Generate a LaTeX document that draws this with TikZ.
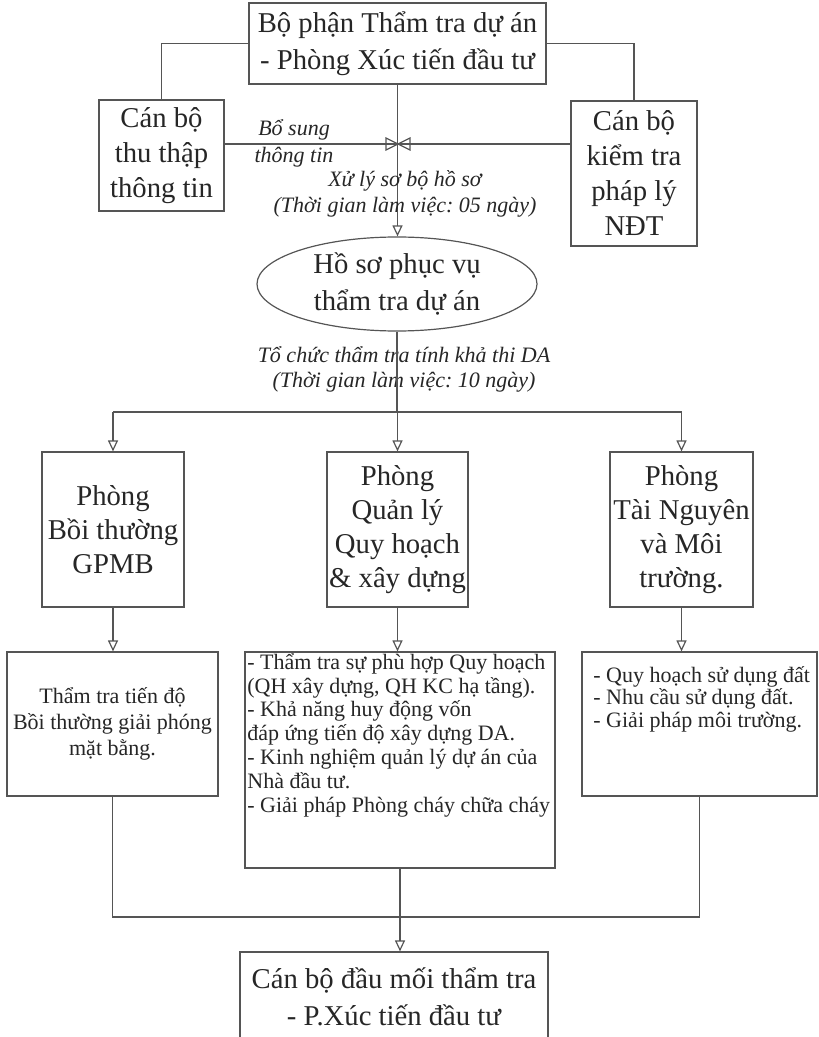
\documentclass[tikz,border=0pt]{standalone}
\usepackage{fontspec}
\setmainfont{Liberation Serif}
\usetikzlibrary{arrows.meta,shapes.geometric}
\definecolor{linegray}{HTML}{555555}
\definecolor{inkgray}{HTML}{262626}
\frenchspacing

\begin{document}
\begin{tikzpicture}[x=0.5pt, y=-0.5pt,
        box/.style={draw=linegray, line width=0.6pt, inner sep=0pt, align=center, text=inkgray},
        sz/.style 2 args={minimum width=#1*0.5pt, minimum height=#2*0.5pt},
        big/.style={font=\fontsize{14.35}{#1}\selectfont},
        note/.style={font=\fontsize{11}{#1}\selectfont\itshape, text=inkgray, inner sep=0pt, align=center},
        small/.style={font=\fontsize{11}{#1}\selectfont, text=inkgray, inner sep=0pt},
        link/.style={draw=linegray, line width=0.6pt},
        arr/.style={link, -{Triangle[open, length=5.5pt, width=5pt]}}]
        \useasboundingbox (0,0) rectangle (818,1037);
        \clip (0,0) rectangle (818,1037);

        % Top: project review unit and its two officers
        \node[box, big=18.75, sz={297}{81}] (head) at (397.5,43.5) {Bộ phận Thẩm tra dự án\\ - Phòng Xúc tiến đầu tư};
        \node[box, big=17.5, sz={125}{111}] (collect) at (161.5,155.5) {Cán bộ\\thu thập\\thông tin};
        \node[box, big=17.5, sz={126}{145}] (legal) at (634,173.5) {Cán bộ\\kiểm tra\\pháp lý\\NĐT};
        \draw[link] (head.west) -| (collect.north);
        \draw[link] (head.east) -| (legal.north);

        % Supplement line with valve
        \coordinate (valve) at (398,144);
        \draw[link] (valve -| collect.east) -- (valve -| legal.west);
        \draw[link] (valve) -- ++(-12,-6) -- ++(0,12) -- cycle;
        \draw[link] (valve) -- ++(12,-6) -- ++(0,12) -- cycle;
        \node[note=13.5] (supp) at (294,143.5) {Bổ sung\\thông tin};

        % Preliminary handling
        \node[box, ellipse, big=18.5, sz={280}{94}] (dossier) at (397,284) {Hồ sơ phục vụ\\thẩm tra dự án};
        \draw[arr] (head.south) -- (head.south |- dossier.north);
        \node[note=13] (prelim) at (405,194) {Xử lý sơ bộ hồ sơ\\(Thời gian làm việc: 05 ngày)};

        % Departments
        \node[box, big=17, sz={142}{155}] (dep1) at (113,529.5) {Phòng\\Bồi thường\\GPMB};
        \node[box, big=17, sz={141}{155}] (dep2) at (397.5,529.5) {Phòng\\Quản lý\\Quy hoạch\\\& xây dựng};
        \node[box, big=17, sz={143}{155}] (dep3) at (681.5,529.5) {Phòng\\Tài Nguyên\\và Môi\\trường.};
        \node[note=12.5] (review) at (404,369.5) {Tổ chức thẩm tra tính khả thi DA\\(Thời gian làm việc: 10 ngày)};
        \coordinate (split) at (397,412);
        \draw[link] (dossier.south) -- (split);
        \draw[link] (split -| dep1.north) -- (split -| dep3.north);
        \foreach \d in {dep1,dep2,dep3}
            \draw[arr] (split -| \d.north) -- (\d.north);

        % Review tasks
        \node[box, small=13, sz={211}{144}] (task1) at (112.5,724) {Thẩm tra tiến độ\\Bồi thường giải phóng\\mặt bằng.};
        \node[box, sz={310}{216}] (task2) at (400,760) {};
        \node[small=11.9, anchor=north west, align=left] (task2txt) at (247,653) {- Thẩm tra sự phù hợp Quy hoạch\\(QH xây dựng, QH KC hạ tầng).\\- Khả năng huy động vốn\\đáp ứng tiến độ xây dựng DA.\\- Kinh nghiệm quản lý dự án của\\Nhà đầu tư.\\- Giải pháp Phòng cháy chữa cháy};
        \node[box, sz={235}{144}] (task3) at (699.5,724) {};
        \node[small=11.3, anchor=north west, align=left] (task3txt) at (593,666) {- Quy hoạch sử dụng đất\\- Nhu cầu sử dụng đất.\\- Giải pháp môi trường.};
        \foreach \d/\t in {dep1/task1,dep2/task2,dep3/task3}
            \draw[arr] (\d.south) -- (\d.south |- \t.north);

        % Back to the focal officer
        \node[box, big=18.5, sz={308}{90}] (focal) at (394,997) {Cán bộ đầu mối thẩm tra\\- P.Xúc tiến đầu tư};
        \coordinate (join) at (400,917);
        \draw[link] (task1.south) |- (join) -| (task3.south);
        \draw[arr] (task2.south) -- (task2.south |- focal.north);
    \end{tikzpicture}
\end{document}
